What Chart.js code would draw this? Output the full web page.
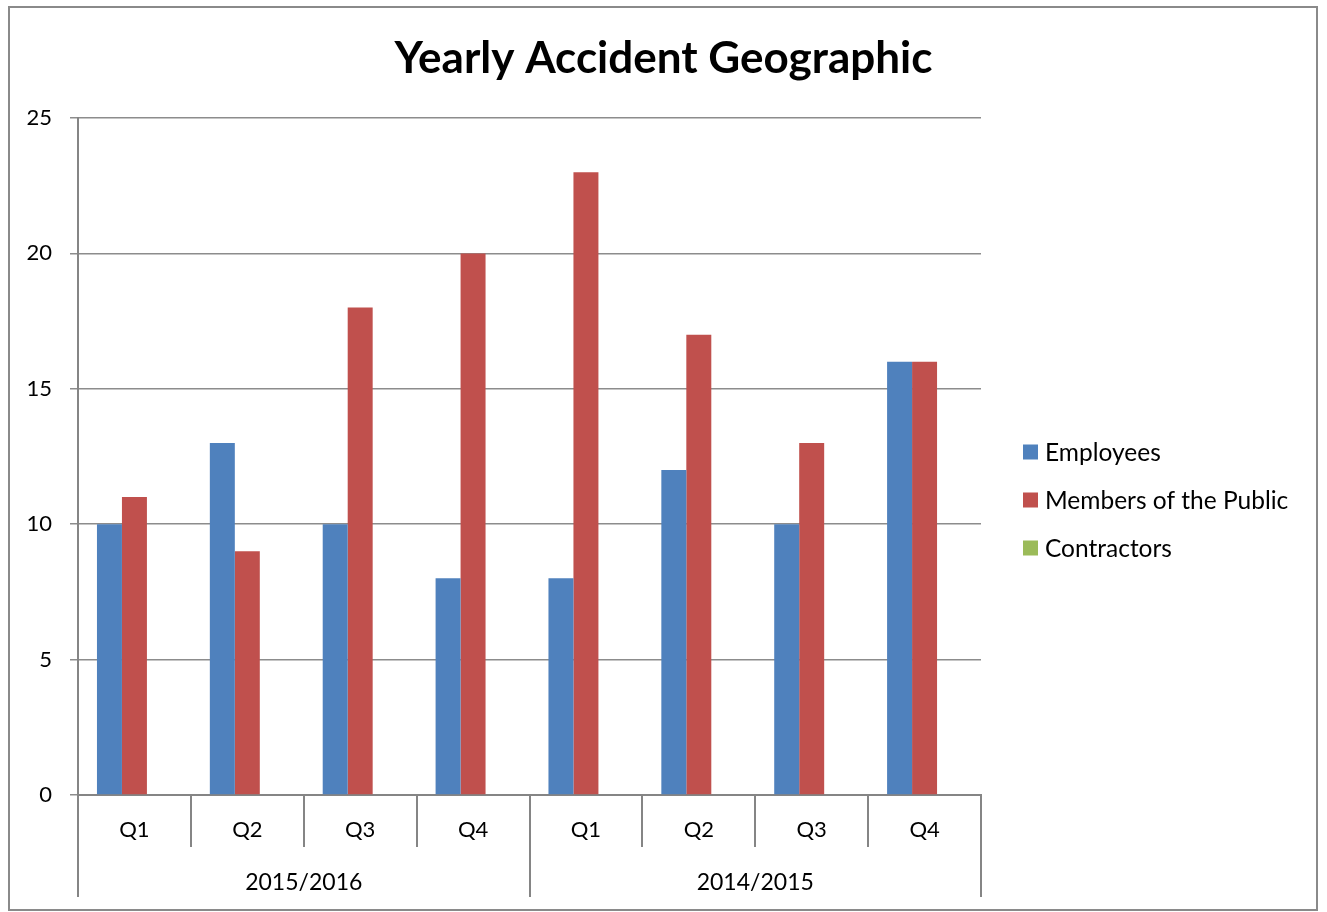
<!DOCTYPE html>
<html>
<head>
<meta charset="utf-8">
<script src="https://cdn.jsdelivr.net/npm/chart.js@4"></script>
<style>
  html, body { margin: 0; padding: 0; background: #ffffff; }
  #wrap { width: 1327px; height: 912px; position: relative; }
</style>
</head>
<body>
<div id="wrap"><canvas id="c" width="1327" height="912"></canvas></div>
<script>
const quarters = ['Q1', 'Q2', 'Q3', 'Q4', 'Q1', 'Q2', 'Q3', 'Q4'];
const years = ['2015/2016', '2014/2015'];
const employees = [10, 13, 10, 8, 8, 12, 10, 16];
const membersOfPublic = [11, 9, 18, 20, 23, 17, 13, 16];
const contractors = [0, 0, 0, 0, 0, 0, 0, 0];
const yTicks = [0, 5, 10, 15, 20, 25];

const FONT = 'Lato, "Open Sans", sans-serif';
const GRID = '#8c8c8c';

const framePlugin = {
  id: 'frame',
  beforeDraw(chart) {
    const ctx = chart.ctx;
    ctx.save();
    ctx.fillStyle = '#ffffff';
    ctx.fillRect(0, 0, chart.width, chart.height);
    ctx.strokeStyle = '#8a8a8a';
    ctx.lineWidth = 2;
    ctx.strokeRect(9, 7, 1308, 903);
    ctx.restore();
  },
  afterDraw(chart) {
    const ctx = chart.ctx;
    ctx.save();
    ctx.font = '24.5px ' + FONT;
    ctx.textBaseline = 'middle';
    ctx.textAlign = 'left';
    chart.data.datasets.forEach((ds, i) => {
      const y = 452 + i * 48;
      ctx.fillStyle = ds.backgroundColor;
      ctx.fillRect(1023, y - 7.5, 15, 15);
      ctx.fillStyle = '#000000';
      ctx.fillText(ds.label, 1045, y + 1);
    });
    ctx.restore();
  }
};

new Chart(document.getElementById('c'), {
  type: 'bar',
  data: {
    labels: quarters,
    datasets: [
      { label: 'Employees', data: employees, backgroundColor: '#4F81BD', xAxisID: 'x', yAxisID: 'y' },
      { label: 'Members of the Public', data: membersOfPublic, backgroundColor: '#C0504D', xAxisID: 'x', yAxisID: 'y' },
      { label: 'Contractors', data: contractors, backgroundColor: '#9BBB59', xAxisID: 'x', yAxisID: 'y' }
    ]
  },
  options: {
    responsive: false,
    animation: false,
    devicePixelRatio: 1,
    layout: { padding: { left: 0, right: 0, top: 0, bottom: 15 } },
    datasets: { bar: { categoryPercentage: 0.664, barPercentage: 1.0 } },
    plugins: {
      legend: { display: false },
      tooltip: { enabled: false },
      title: {
        display: true,
        text: 'Yearly Accident Geographic',
        color: '#000000',
        font: { family: FONT, size: 44, weight: 'bold', lineHeight: 1.2 },
        padding: { top: 32, bottom: 33.2 }
      }
    },
    scales: {
      y: {
        min: 0, max: 25,
        afterFit(s) { s.width = 78; },
        afterBuildTicks(s) { s.ticks = yTicks.map(v => ({ value: v })); },
        border: { display: true, color: '#858585', width: 2 },
        grid: { color: GRID, lineWidth: 1.5, tickLength: 8, drawTicks: true },
        ticks: { color: '#000000', font: { family: FONT, size: 22 }, padding: 18 }
      },
      yRight: {
        position: 'right',
        min: 0, max: 25,
        afterFit(s) { s.width = 346; },
        border: { display: false },
        grid: { display: false, drawOnChartArea: false },
        ticks: { display: false }
      },
      x: {
        position: 'bottom',
        offset: true,
        afterFit(s) { s.height = 52; },
        border: { display: true, color: '#858585', width: 2 },
        grid: { offset: true, drawOnChartArea: false, drawTicks: true, tickLength: 52, color: '#858585', lineWidth: 2 },
        ticks: { color: '#000000', font: { family: FONT, size: 22 }, padding: -30, maxRotation: 0, autoSkip: false }
      },
      x2: {
        type: 'category',
        position: 'bottom',
        labels: years,
        offset: true,
        afterFit(s) { s.height = 50; },
        border: { display: false },
        grid: { offset: true, drawOnChartArea: false, drawTicks: true, tickLength: 50, color: '#858585', lineWidth: 2 },
        ticks: { color: '#000000', font: { family: FONT, size: 23 }, padding: -28, maxRotation: 0, autoSkip: false }
      }
    }
  },
  plugins: [framePlugin]
});
</script>
</body>
</html>
